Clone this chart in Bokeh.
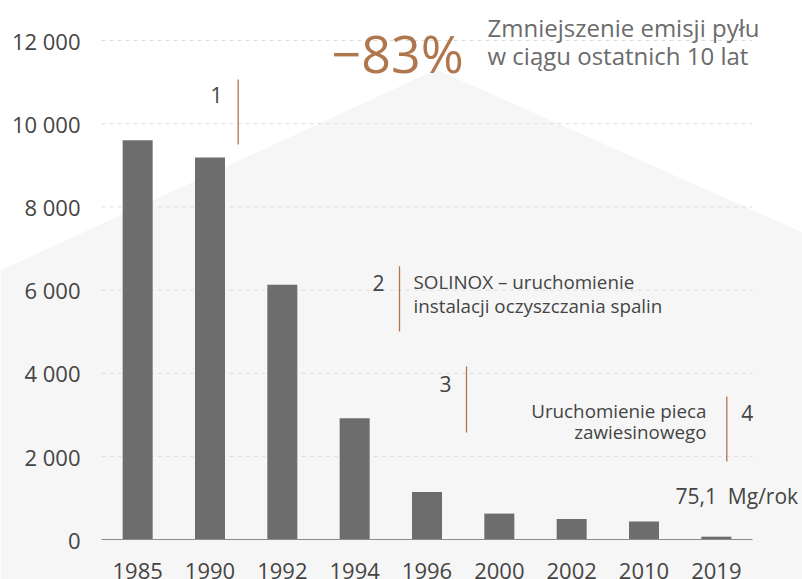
import numpy as np
from bokeh.plotting import figure
from bokeh.models import Range1d, FixedTicker, Label, PolyAnnotation, LinearAxis
from bokeh.embed import file_html
from bokeh.resources import INLINE

# ---- data ----
years = ["1985", "1990", "1992", "1994", "1996", "2000", "2002", "2010", "2019"]
emissions = [9600, 9190, 6130, 2920, 1150, 630, 500, 440, 75.1]
y_ticks = [0, 2000, 4000, 6000, 8000, 10000, 12000]
y_tick_labels = ["0", "2 000", "4 000", "6 000", "8 000", "10 000", "12 000"]

FONT = "Open Sans"
BROWN = "#b0774f"
GREY_TXT = "#6b6b6b"
DARK_TXT = "#444444"

W, H = 802, 579
n = len(years)
PLOT_L, PLOT_R = 101.0, 752.0        # plot area edges (px)
px_per_cat = (PLOT_R - PLOT_L) / n
zero_px, top_px = 539.3, 40.0        # px of 0 and of 12000
k = (zero_px - top_px) / 12000.0
x_start = -PLOT_L / px_per_cat
x_end = n + (W - PLOT_R) / px_per_cat
y_end = 12000 + top_px / k
y_start = -(H - zero_px) / k

p = figure(width=W, height=H, output_backend="svg", toolbar_location=None,
           x_range=Range1d(x_start, x_end), y_range=Range1d(y_start, y_end),
           x_axis_location=None, y_axis_location=None,
           min_border_left=0, min_border_right=0,
           min_border_top=0, min_border_bottom=0)
p.outline_line_color = None
p.background_fill_color = "white"
p.border_fill_color = "white"
p.xgrid.visible = False
p.ygrid.visible = False

# background "roof" shape (canvas px)
roof = PolyAnnotation(xs=[0, 436, 802, 802, 0], ys=[270, 69, 232, 579, 579],
                      xs_units="canvas", ys_units="canvas",
                      fill_color="#f6f6f6", fill_alpha=1.0, line_color=None,
                      level="image")
p.add_layout(roof)

# dashed horizontal grid lines across the plot area
p.segment(x0=[0] * (len(y_ticks) - 1), x1=[n] * (len(y_ticks) - 1),
          y0=y_ticks[1:], y1=y_ticks[1:],
          line_color="#dcdcdc", line_width=1, line_dash="4 4")

# axes (fixed location so they take no border space)
xpos = [i + 0.5 for i in range(n)]
xaxis = LinearAxis(ticker=FixedTicker(ticks=xpos), fixed_location=0,
                   bounds=(0, n))
xaxis.major_label_overrides = {x: y for x, y in zip(xpos, years)}
xaxis.axis_line_color = "#8c8c8c"
xaxis.axis_line_width = 1.2
xaxis.major_tick_line_color = None
xaxis.minor_tick_line_color = None
xaxis.major_label_standoff = 17
xaxis.major_label_text_font = FONT
xaxis.major_label_text_font_size = "22px"
xaxis.major_label_text_color = DARK_TXT
p.add_layout(xaxis, "below")

yaxis = LinearAxis(ticker=FixedTicker(ticks=y_ticks), fixed_location=0)
yaxis.major_label_overrides = {t: l for t, l in zip(y_ticks, y_tick_labels)}
yaxis.axis_line_color = None
yaxis.major_tick_line_color = None
yaxis.minor_tick_line_color = None
yaxis.major_label_standoff = 15
yaxis.major_label_text_font = FONT
yaxis.major_label_text_font_size = "22px"
yaxis.major_label_text_color = DARK_TXT
p.add_layout(yaxis, "left")

# bars
p.vbar(x=xpos, top=emissions, width=0.415, fill_color="#6d6d6d", line_color=None)

# annotation helpers: px -> data
def dx(px):
    return (px - PLOT_L) / px_per_cat

def dy(py):
    return (zero_px - py) / k

def lab(x, y, text, size, color, align="left", baseline="middle"):
    p.add_layout(Label(x=dx(x), y=dy(y), text=text, text_font=FONT,
                       text_font_size=size, text_color=color,
                       text_align=align, text_baseline=baseline))

# headline
lab(331, 52, "\u221283%", "52px", BROWN, baseline="alphabetic")
lab(487, 27, "Zmniejszenie emisji pyłu", "24px", GREY_TXT, baseline="alphabetic")
lab(487, 55, "w ciągu ostatnich 10 lat", "24px", GREY_TXT, baseline="alphabetic")

# milestone markers
marks = [(216, 94, "1", 237.7, 79, 144),
         (378, 282, "2", 399, 265.7, 331),
         (445, 383, "3", 466, 366, 432),
         (746.7, 412, "4", 726.3, 396, 461)]
for tx, ty, t, lx, ly0, ly1 in marks:
    lab(tx, ty, t, "21px", DARK_TXT, align="center")
    p.segment(x0=[dx(lx)], y0=[dy(ly0)], x1=[dx(lx)], y1=[dy(ly1)],
              line_color=BROWN, line_width=1.3)

lab(413, 281.7, "SOLINOX \u2013 uruchomienie", "18.8px", DARK_TXT)
lab(413, 305, "instalacji oczyszczania spalin", "18.8px", DARK_TXT)
lab(706, 410.7, "Uruchomienie pieca", "18.8px", DARK_TXT, align="right")
lab(706, 431.7, "zawiesinowego", "18.8px", DARK_TXT, align="right")
lab(675, 495, "75,1\u00a0\u00a0Mg/rok", "21px", DARK_TXT)

open("out.html", "w").write(file_html(p, INLINE))
